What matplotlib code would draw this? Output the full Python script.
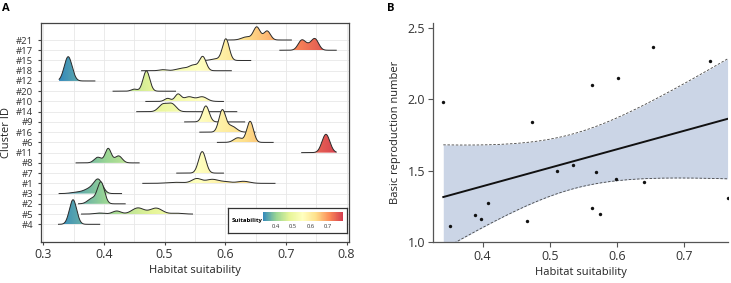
import numpy as np
import matplotlib.pyplot as plt
from matplotlib.colors import LinearSegmentedColormap, Normalize
from matplotlib.patches import Polygon
import matplotlib.cm as cm

plt.rcParams['font.family'] = ['Open Sans', 'DejaVu Sans']

# Panel A: ridges listed bottom to top
clusters = ['#4', '#5', '#2', '#3', '#1', '#7', '#8', '#11', '#6', '#16',
            '#9', '#14', '#10', '#20', '#12', '#18', '#15', '#17', '#21']
lo = [0.325, 0.363, 0.358, 0.326, 0.464, 0.520, 0.354, 0.726, 0.587, 0.558,
      0.533, 0.454, 0.469, 0.415, 0.326, 0.462, 0.565, 0.690, 0.604]
hi = [0.393, 0.546, 0.435, 0.429, 0.682, 0.597, 0.458, 0.783, 0.679, 0.649,
      0.632, 0.619, 0.597, 0.518, 0.385, 0.610, 0.642, 0.783, 0.709]
# (centre, height in row units, width) of each bump
peaks = [
    [(0.349, 2.40, 0.0060)],
    [(0.393, 0.10, 0.008), (0.421, 0.30, 0.007), (0.456, 0.60, 0.010),
     (0.486, 0.58, 0.010), (0.520, 0.08, 0.010)],
    [(0.395, 2.10, 0.0058), (0.380, 0.50, 0.007)],
    [(0.391, 1.20, 0.0070), (0.378, 0.50, 0.010), (0.355, 0.12, 0.010)],
    [(0.520, 0.10, 0.015), (0.553, 0.45, 0.008), (0.578, 0.38, 0.010),
     (0.600, 0.15, 0.010), (0.630, 0.20, 0.010)],
    [(0.562, 2.10, 0.0060)],
    [(0.390, 0.55, 0.006), (0.407, 1.40, 0.005), (0.424, 0.68, 0.006)],
    [(0.766, 1.79, 0.0065)],
    [(0.621, 0.45, 0.007), (0.641, 2.05, 0.0055)],
    [(0.595, 2.10, 0.0055), (0.610, 0.60, 0.008)],
    [(0.568, 1.56, 0.0055)],
    [(0.497, 0.70, 0.007), (0.512, 0.75, 0.007)],
    [(0.505, 0.30, 0.005), (0.522, 0.70, 0.005), (0.540, 0.45, 0.008),
     (0.562, 0.45, 0.008)],
    [(0.470, 1.98, 0.0055), (0.450, 0.20, 0.005)],
    [(0.341, 2.37, 0.0065)],
    [(0.497, 0.10, 0.006), (0.530, 0.25, 0.010), (0.548, 0.50, 0.007),
     (0.563, 1.35, 0.0055)],
    [(0.601, 2.10, 0.0055), (0.585, 0.15, 0.008)],
    [(0.726, 0.95, 0.006), (0.737, 0.35, 0.006), (0.748, 1.08, 0.006)],
    [(0.635, 0.30, 0.008), (0.652, 1.25, 0.0055), (0.669, 0.88, 0.0055)],
]

# Panel B: one point per cluster
suit = [0.3414, 0.3510, 0.3888, 0.3972, 0.4077, 0.4662, 0.4737, 0.5115,
        0.5353, 0.5636, 0.5636, 0.5696, 0.5745, 0.5988, 0.6018, 0.6410,
        0.6533, 0.7381, 0.7649]
r0 = [1.977, 1.112, 1.190, 1.160, 1.276, 1.149, 1.842, 1.495, 1.542,
      2.098, 1.241, 1.488, 1.200, 1.444, 2.149, 1.421, 2.365, 2.265, 1.309]

spectral = ['#3288BD', '#99D594', '#E6F598', '#FFFFBF', '#FEE08B', '#FC8D59', '#D53E4F']
cmap = LinearSegmentedColormap.from_list('spec', spectral)
norm = Normalize(0.325, 0.787)

fig = plt.figure(figsize=(7.31, 2.83), dpi=100)

# ---------- A ----------
axA = fig.add_axes([0.0557, 0.1459, 0.4217, 0.7739])
n = len(clusters)
for i in range(n):
    x = np.linspace(lo[i], hi[i], 500)
    d = np.zeros_like(x)
    for c, h, s in peaks[i]:
        d += h * np.exp(-0.5 * ((x - c) / s) ** 2)
    y = i + d
    z = 10 + (n - i) * 2
    verts = [(lo[i], i)] + list(zip(x, y)) + [(hi[i], i)]
    patch = Polygon(verts, closed=True, facecolor='none', edgecolor='none')
    axA.add_patch(patch)
    grad = np.linspace(lo[i], hi[i], 256)[None, :]
    im = axA.imshow(grad, extent=[lo[i], hi[i], i, i + d.max() + 0.1],
                    aspect='auto', cmap=cmap, norm=norm, origin='lower',
                    zorder=z)
    im.set_clip_path(patch)
    axA.plot(x, y, color='#2a2a2a', lw=0.7, zorder=z + 1)

axA.set_xlim(0.2957, 0.804)
axA.set_ylim(-1.70, 19.69)
axA.set_yticks(range(n))
axA.set_yticklabels(clusters)
axA.set_xticks([0.3, 0.4, 0.5, 0.6, 0.7, 0.8])
axA.set_xticks([0.35, 0.45, 0.55, 0.65, 0.75], minor=True)
axA.grid(True, which='both', color='#e8e8e8', lw=0.6, zorder=0)
axA.set_axisbelow(True)
axA.tick_params(axis='y', labelsize=6.8, length=2.5, pad=3, colors='#444444', labelcolor='#333333')
axA.tick_params(axis='x', labelsize=9, length=2.5, pad=2, colors='#444444', labelcolor='#333333')
axA.tick_params(axis='x', which='minor', length=0)
for sp in axA.spines.values():
    sp.set_color('#444444')
    sp.set_linewidth(0.9)
axA.set_xlabel('Habitat suitability', fontsize=8, color='#222222', labelpad=3)
axA.set_ylabel('Cluster ID', fontsize=8, color='#222222', labelpad=3)

# colour legend
box = fig.add_axes([0.3123, 0.1777, 0.162, 0.0862])
box.set_xticks([])
box.set_yticks([])
box.set_zorder(50)
for sp in box.spines.values():
    sp.set_color('#333333')
    sp.set_linewidth(0.9)
cax = fig.add_axes([0.3594, 0.2191, 0.1094, 0.0329])
cax.set_zorder(60)
cb = fig.colorbar(cm.ScalarMappable(norm=norm, cmap=cmap), cax=cax, orientation='horizontal')
cb.outline.set_visible(False)
cb.set_ticks([0.4, 0.5, 0.6, 0.7])
cax.tick_params(labelsize=4.2, length=0, pad=2, labelcolor='#333333')
fig.text(0.3165, 0.2201, 'Suitability', fontsize=4.3, fontweight='bold', va='center', zorder=70)

# ---------- B ----------
axB = fig.add_axes([0.5919, 0.1438, 0.4044, 0.7739])
sx = np.array(suit)
sy = np.array(r0)
b, a = np.polyfit(sx, sy, 1)
xs = np.linspace(sx.min(), sx.max(), 200)
fit = a + b * xs
resid = sy - (a + b * sx)
s = np.sqrt(np.sum(resid ** 2) / (len(sx) - 2))
sxx = np.sum((sx - sx.mean()) ** 2)
hw = 2.1098 * s * np.sqrt(1 / len(sx) + (xs - sx.mean()) ** 2 / sxx)
axB.fill_between(xs, fit - hw, fit + hw, color='#cbd5e6', lw=0, zorder=1)
axB.plot(xs, fit + hw, color='#444444', lw=0.6, ls=(0, (3, 2)), zorder=2)
axB.plot(xs, fit - hw, color='#444444', lw=0.6, ls=(0, (3, 2)), zorder=2)
axB.plot(xs, fit, color='#111111', lw=1.4, zorder=3)
axB.scatter(sx, sy, s=6, color='#111111', zorder=4, linewidths=0)

axB.set_xlim(0.3256, 0.766)
axB.set_ylim(1.0, 2.53)
axB.set_xticks([0.4, 0.5, 0.6, 0.7])
axB.set_yticks([1.0, 1.5, 2.0, 2.5])
axB.set_yticklabels(['1.0', '1.5', '2.0', '2.5'])
axB.spines['top'].set_visible(False)
axB.spines['right'].set_visible(False)
for sp in ['left', 'bottom']:
    axB.spines[sp].set_color('#555555')
    axB.spines[sp].set_linewidth(0.9)
axB.tick_params(labelsize=9, length=3.5, pad=2, colors='#555555', labelcolor='#333333')
axB.set_xlabel('Habitat suitability', fontsize=8, color='#222222', labelpad=3)
axB.set_ylabel('Basic reproduction number', fontsize=8, color='#222222', labelpad=5)

fig.text(0.003, 0.99, 'A', fontsize=8, fontweight='bold', va='top')
fig.text(0.529, 0.99, 'B', fontsize=8, fontweight='bold', va='top')

fig.savefig('out.png', dpi=100)
